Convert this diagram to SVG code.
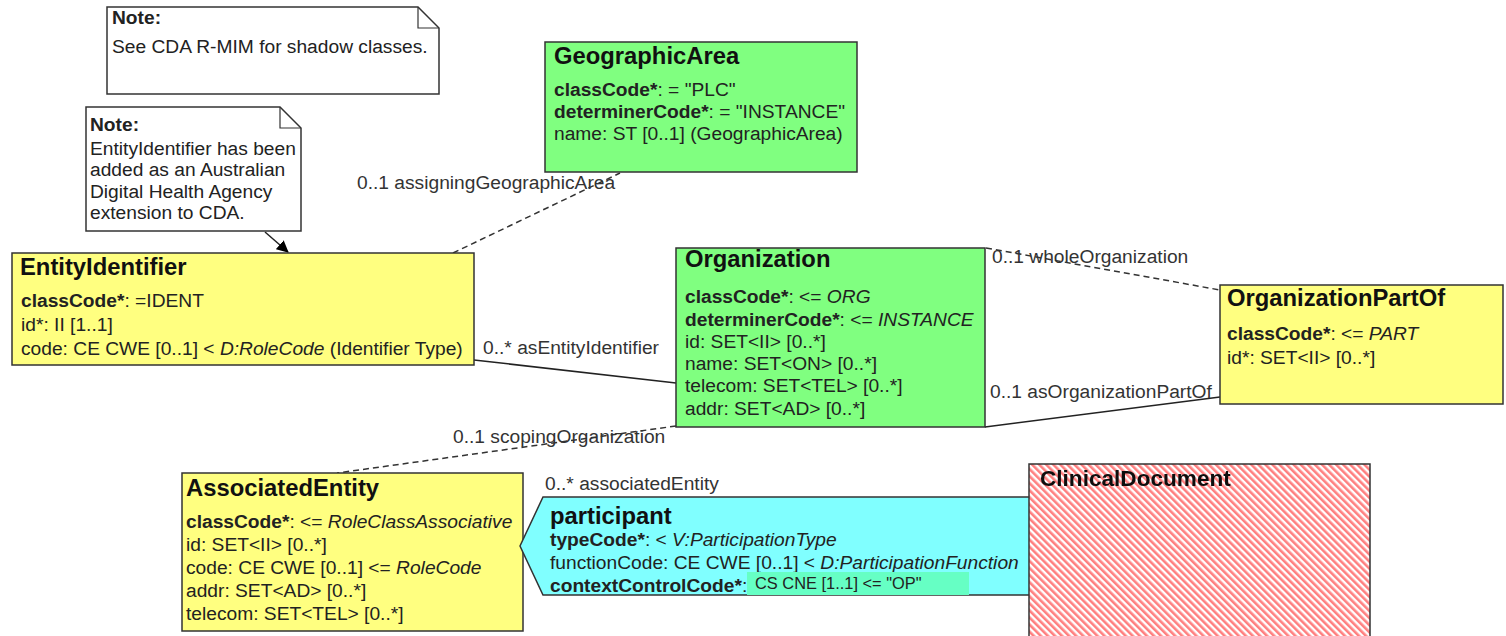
<svg xmlns="http://www.w3.org/2000/svg" width="1506" height="636" viewBox="0 0 1506 636">
<defs>
<style>
text{font-family:"Liberation Sans",Arial,sans-serif;fill:#222;}
.t{font-size:23.8px;font-weight:bold;fill:#111;}
.a{font-size:19.2px;}
.b{font-weight:bold;}
.i{font-style:italic;}
.lbl{font-size:19.2px;fill:#333;}
.box{stroke:#333;stroke-width:1.5;}
.yel{fill:#FFFF80;}
.grn{fill:#80FF80;}
.note{fill:#fff;stroke:#333;stroke-width:1.5;}
.solid{stroke:#222;stroke-width:1.5;fill:none;}
.dash{stroke:#333;stroke-width:1.5;fill:none;stroke-dasharray:6,4;}
</style>
<pattern id="hatch" width="5" height="5" patternUnits="userSpaceOnUse" patternTransform="rotate(-45)">
<rect width="5" height="5" fill="#fff"/>
<rect width="2.6" height="5" fill="#FF7F7F"/>
</pattern>
<marker id="arr" markerWidth="12" markerHeight="12" refX="11" refY="6" orient="auto" markerUnits="userSpaceOnUse">
<path d="M0,0 L12,6 L0,12 z" fill="#000"/>
</marker>
<filter id="blur" x="-5%" y="-20%" width="110%" height="140%"><feGaussianBlur stdDeviation="0.6"/></filter>
</defs>
<rect width="1506" height="636" fill="#fff"/>

<g id="connectors">
<line class="dash" x1="453" y1="253" x2="620" y2="173"/>
<line class="solid" x1="474" y1="360" x2="676" y2="383"/>
<line class="dash" x1="676" y1="426" x2="337" y2="473"/>
<line class="dash" x1="986" y1="248" x2="1220" y2="290"/>
<line class="solid" x1="985" y1="427" x2="1220" y2="397"/>
<line class="solid" x1="265" y1="232" x2="288" y2="252" marker-end="url(#arr)"/>
<text class="lbl" x="357" y="189">0..1 assigningGeographicArea</text>
<text class="lbl" x="483" y="354">0..* asEntityIdentifier</text>
<text class="lbl" x="453" y="443">0..1 scopingOrganization</text>
<text class="lbl" x="992" y="263">0..1 wholeOrganization</text>
<text class="lbl" x="990" y="398">0..1 asOrganizationPartOf</text>
<text class="lbl" x="545" y="490">0..* associatedEntity</text>
</g>

<g id="note1">
<path class="note" d="M107,7 H418 L439,28 V94 H107 Z"/>
<path d="M418,7 V28 H439" fill="none" stroke="#333" stroke-width="1.2"/>
<text class="a b" x="112" y="24">Note:</text>
<text class="a" x="112" y="53">See CDA R-MIM for shadow classes.</text>
</g>

<g id="note2">
<path class="note" d="M86,107 H280 L301,128 V231 H86 Z"/>
<path d="M280,107 V128 H301" fill="none" stroke="#333" stroke-width="1.2"/>
<text class="a b" x="90" y="131">Note:</text>
<text class="a" x="90" y="155">EntityIdentifier has been</text>
<text class="a" x="90" y="176">added as an Australian</text>
<text class="a" x="90" y="198">Digital Health Agency</text>
<text class="a" x="90" y="219">extension to CDA.</text>
</g>

<g id="GeographicArea">
<rect class="box grn" x="545" y="42" width="312" height="130"/>
<text class="t" x="554" y="64">GeographicArea</text>
<text class="a" x="554" y="96"><tspan class="b">classCode*</tspan>: = "PLC"</text>
<text class="a" x="554" y="118"><tspan class="b">determinerCode*</tspan>: = "INSTANCE"</text>
<text class="a" x="554" y="140">name: ST [0..1] (GeographicArea)</text>
</g>

<g id="EntityIdentifier">
<rect class="box yel" x="12" y="253" width="462" height="112"/>
<text class="t" x="20" y="275">EntityIdentifier</text>
<text class="a" x="21" y="307"><tspan class="b">classCode*</tspan>: =IDENT</text>
<text class="a" x="21" y="331">id*: II [1..1]</text>
<text class="a" x="21" y="355">code: CE CWE [0..1] &lt; <tspan class="i">D:RoleCode</tspan> (Identifier Type)</text>
</g>

<g id="Organization">
<rect class="box grn" x="676" y="248" width="309" height="179"/>
<text class="t" x="685" y="267">Organization</text>
<text class="a" x="685" y="303"><tspan class="b">classCode*</tspan>: &lt;= <tspan class="i">ORG</tspan></text>
<text class="a" x="685" y="326"><tspan class="b">determinerCode*</tspan>: &lt;= <tspan class="i">INSTANCE</tspan></text>
<text class="a" x="685" y="348">id: SET&lt;II&gt; [0..*]</text>
<text class="a" x="685" y="370">name: SET&lt;ON&gt; [0..*]</text>
<text class="a" x="685" y="392">telecom: SET&lt;TEL&gt; [0..*]</text>
<text class="a" x="685" y="415">addr: SET&lt;AD&gt; [0..*]</text>
</g>

<g id="OrganizationPartOf">
<rect class="box yel" x="1220" y="285" width="283" height="119"/>
<text class="t" x="1227" y="306">OrganizationPartOf</text>
<text class="a" x="1227" y="340"><tspan class="b">classCode*</tspan>: &lt;= <tspan class="i">PART</tspan></text>
<text class="a" x="1227" y="364">id*: SET&lt;II&gt; [0..*]</text>
</g>

<g id="AssociatedEntity">
<rect class="box yel" x="182" y="473" width="341" height="158"/>
<text class="t" x="186" y="496">AssociatedEntity</text>
<text class="a" x="186" y="528"><tspan class="b">classCode*</tspan>: &lt;= <tspan class="i">RoleClassAssociative</tspan></text>
<text class="a" x="186" y="551">id: SET&lt;II&gt; [0..*]</text>
<text class="a" x="186" y="574">code: CE CWE [0..1] &lt;= <tspan class="i">RoleCode</tspan></text>
<text class="a" x="186" y="597">addr: SET&lt;AD&gt; [0..*]</text>
<text class="a" x="186" y="620">telecom: SET&lt;TEL&gt; [0..*]</text>
</g>

<g id="participant">
<path d="M543,497 H1040 V595 H543 L520,546 Z" fill="#80FFFF" stroke="#333" stroke-width="1.5"/>
<text class="t" x="550" y="524">participant</text>
<text class="a" x="550" y="546"><tspan class="b">typeCode*</tspan>: &lt; <tspan class="i">V:ParticipationType</tspan></text>
<text class="a" x="550" y="569">functionCode: CE CWE [0..1] &lt; <tspan class="i">D:ParticipationFunction</tspan></text>
<rect x="747" y="572" width="222" height="23" fill="#66FFC4"/>
<text class="a b" x="550" y="592">contextControlCode*<tspan font-weight="normal">:</tspan></text>
<text x="755" y="589" style="font-size:16.4px">CS CNE [1..1] &lt;= "OP"</text>
</g>

<g id="ClinicalDocument">
<rect x="1029" y="464" width="341" height="180" fill="url(#hatch)" stroke="#333" stroke-width="1.5"/>
<text class="t" x="1040" y="486" filter="url(#blur)" style="font-size:22.6px">ClinicalDocument</text>
</g>
</svg>
